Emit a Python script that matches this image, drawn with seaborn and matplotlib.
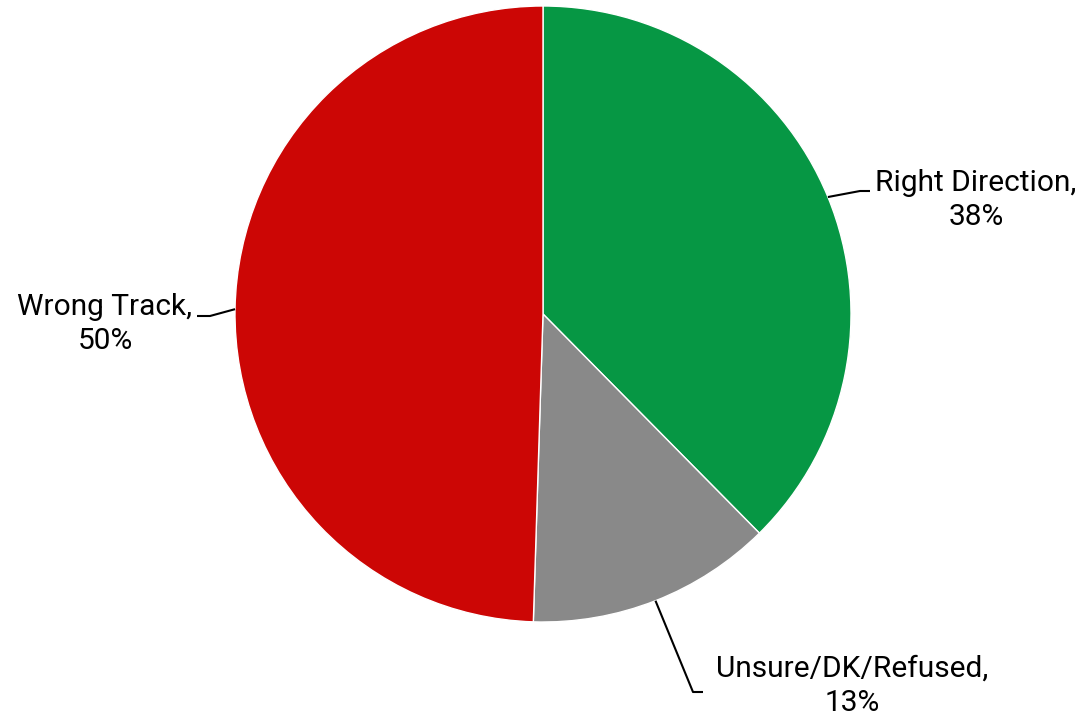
import numpy as np
import matplotlib
matplotlib.use("Agg")
import matplotlib.pyplot as plt
import seaborn as sns

# Survey shares (percent)
categories = ["Right Direction", "Unsure/DK/Refused", "Wrong Track"]
shares = [37.6, 12.9, 49.5]
shown_pct = [38, 13, 50]
colors = ["#069744", "#898989", "#CC0605"]

sns.set_theme(style="white")
plt.rcParams["font.family"] = ["Roboto", "DejaVu Sans"]

W, H = 1089, 728
fig = plt.figure(figsize=(W / 100, H / 100), dpi=100)
ax = fig.add_axes([0, 0, 1, 1])

cx, cy, r = 543, H - 314, 308
wedges, _ = ax.pie(shares, colors=colors, startangle=90, counterclock=False,
                   center=(cx, cy), radius=r, frame=True,
                   wedgeprops=dict(edgecolor="white", linewidth=1))
ax.set_xlim(0, W)
ax.set_ylim(0, H)
ax.set_aspect("equal")
ax.axis("off")

# label text anchor, elbow and line end per slice
layout = {
    "Right Direction": dict(text=(976, H - 200), elbow=(860, H - 191), end=(870, H - 191)),
    "Unsure/DK/Refused": dict(text=(852, H - 686), elbow=(693, H - 692), end=(703, H - 692)),
    "Wrong Track": dict(text=(105, H - 324), elbow=(210, H - 316), end=(197, H - 316)),
}

for w, cat, pct in zip(wedges, categories, shown_pct):
    mid = np.deg2rad((w.theta1 + w.theta2) / 2)
    ex, ey = cx + r * np.cos(mid), cy + r * np.sin(mid)
    L = layout[cat]
    ax.plot([ex, L["elbow"][0], L["end"][0]], [ey, L["elbow"][1], L["end"][1]],
            color="black", lw=1.5, solid_capstyle="butt")
    ax.text(L["text"][0], L["text"][1], f"{cat},\n{pct}%", ha="center", va="center",
            fontsize=21.5, color="black", linespacing=1.3)

fig.savefig("out.png", dpi=100, facecolor="white")
